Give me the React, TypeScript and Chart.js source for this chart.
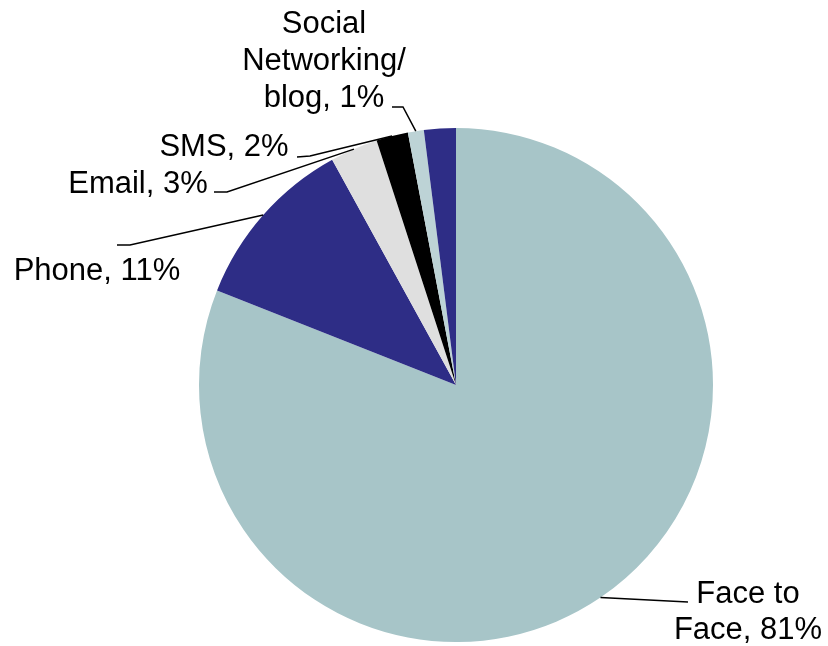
import React, { useEffect, useRef } from "react";
import { Chart, registerables } from "chart.js";

Chart.register(...registerables);

const categories = ["Face to Face", "Phone", "Email", "SMS", "Social Networking/blog", "Other"];
const values = [81, 11, 3, 2, 1, 2];
const labelLines: string[][] = [
  ["Face to", "Face, 81%"],
  ["Phone, 11%"],
  ["Email, 3%"],
  ["SMS, 2%"],
  ["Social", "Networking/", "blog, 1%"],
  [],
];
const colors = ["#A7C5C8", "#2E2D86", "#DFDFDF", "#000000", "#BDD3D6", "#2E2D86"];

// label layout (text anchor, line height, leader elbow and end)
const labelLayout = [
  { x: 748, y: 603, lh: 36, elbow: [688, 602], end: [688, 602] },
  { x: 97, y: 280, lh: 36, elbow: [130, 245], end: [117, 245] },
  { x: 138, y: 193, lh: 36, elbow: [227, 192], end: [214, 192] },
  { x: 224, y: 156, lh: 36, elbow: [310, 156], end: [297, 157] },
  { x: 324, y: 33, lh: 37, elbow: [403, 107], end: [392, 107] },
  null,
];

const labelPlugin = {
  id: "pieLabels",
  afterDraw(chart: any) {
    const ctx = chart.ctx;
    const meta = chart.getDatasetMeta(0);
    ctx.save();
    ctx.font = "31px 'Liberation Sans', Arial, sans-serif";
    ctx.fillStyle = "#000";
    ctx.strokeStyle = "#000";
    ctx.lineWidth = 1.5;
    ctx.textAlign = "center";
    ctx.textBaseline = "alphabetic";
    meta.data.forEach((arc: any, i: number) => {
      const lay = labelLayout[i];
      if (!lay) return;
      const p = arc.getProps(["x", "y", "startAngle", "endAngle", "outerRadius"], true);
      const a = (p.startAngle + p.endAngle) / 2;
      const ex = p.x + Math.cos(a) * p.outerRadius;
      const ey = p.y + Math.sin(a) * p.outerRadius;
      ctx.beginPath();
      ctx.moveTo(ex, ey);
      ctx.lineTo(lay.elbow[0], lay.elbow[1]);
      ctx.lineTo(lay.end[0], lay.end[1]);
      ctx.stroke();
      labelLines[i].forEach((line, j) => {
        ctx.fillText(line, lay.x, lay.y + j * lay.lh);
      });
    });
    ctx.restore();
  },
};

export default function App() {
  const ref = useRef<HTMLCanvasElement>(null);
  useEffect(() => {
    document.body.style.margin = "0";
    const chart = new Chart(ref.current!, {
      type: "pie",
      data: {
        labels: categories,
        datasets: [
          {
            data: values,
            backgroundColor: colors,
            borderWidth: 0,
          },
        ],
      },
      options: {
        responsive: false,
        animation: false,
        devicePixelRatio: 1,
        layout: { padding: { left: 199, right: 115, top: 128, bottom: 4 } },
        plugins: {
          legend: { display: false },
          tooltip: { enabled: false },
        },
      },
      plugins: [labelPlugin],
    });
    return () => chart.destroy();
  }, []);
  return (
    <div style={{ position: "absolute", left: 0, top: 0, width: 828, height: 646, background: "#fff" }}>
      <canvas ref={ref} width={828} height={646} />
    </div>
  );
}
